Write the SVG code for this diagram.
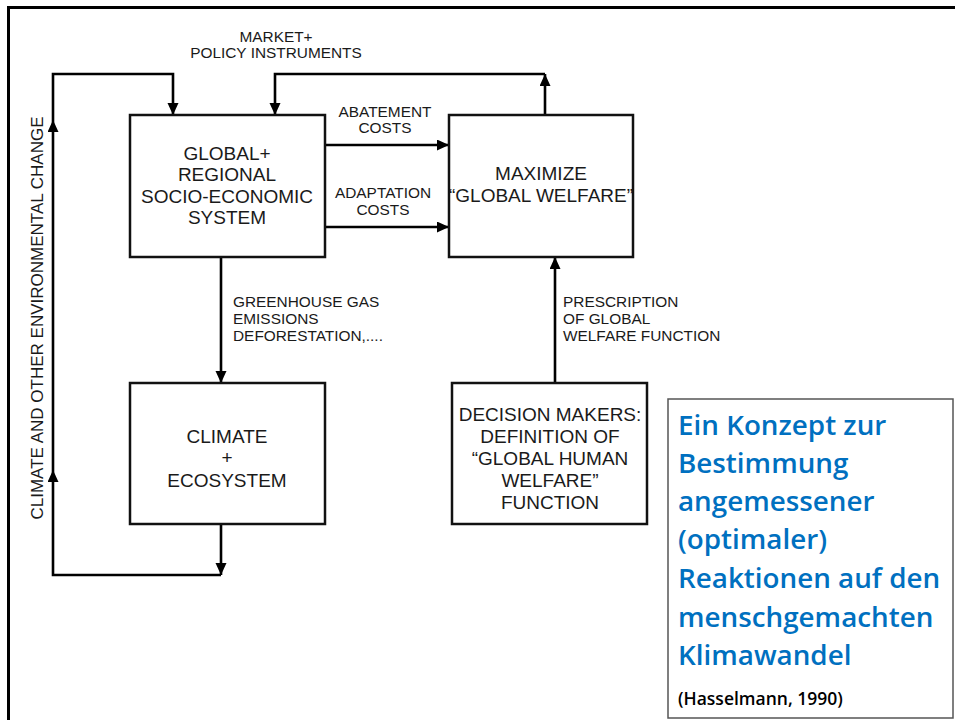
<svg xmlns="http://www.w3.org/2000/svg" width="955" height="720" viewBox="0 0 955 720">
<style>
.box{fill:#fff;stroke:#111;stroke-width:2.5}
.ln{fill:none;stroke:#000;stroke-width:2.6}
.t{font-family:"Liberation Sans",Arial,sans-serif;fill:#1a1a1a}
.big{font-size:19px;text-anchor:middle}
.sm{font-size:15.4px}
.blue{font-family:"Open Sans","Noto Sans",sans-serif;font-weight:600;font-size:27.8px;fill:#0070C0}
</style>
<defs>
<marker id="ah" markerUnits="userSpaceOnUse" markerWidth="13" markerHeight="12" refX="12" refY="5.5" orient="auto">
<path d="M0,0 L12,5.5 L0,11 z" fill="#000"/>
</marker>
</defs>
<rect width="955" height="720" fill="#fff"/>
<path d="M8.5,720 V7.5 H955" fill="none" stroke="#000" stroke-width="3"/>

<g id="connectors">
<path class="ln" d="M221,524 V575" marker-end="url(#ah)"/>
<path class="ln" d="M221,575 H53 V470" marker-end="url(#ah)"/>
<path class="ln" d="M53,470 V120" marker-end="url(#ah)"/>
<path class="ln" d="M53,120 V74 H173 V115" marker-end="url(#ah)"/>
<path class="ln" d="M545,115 V74" marker-end="url(#ah)"/>
<path class="ln" d="M545,74 H275 V115" marker-end="url(#ah)"/>
<path class="ln" d="M325,145 H449" marker-end="url(#ah)"/>
<path class="ln" d="M325,227 H449" marker-end="url(#ah)"/>
<path class="ln" d="M221,257 V383" marker-end="url(#ah)"/>
<path class="ln" d="M555,383 V257" marker-end="url(#ah)"/>
</g>

<g id="labels">
<text class="t sm" text-anchor="middle" x="276" y="42">MARKET+</text>
<text class="t sm" text-anchor="middle" x="276" y="58">POLICY INSTRUMENTS</text>
<text class="t sm" text-anchor="middle" x="385" y="117">ABATEMENT</text>
<text class="t sm" text-anchor="middle" x="385" y="133">COSTS</text>
<text class="t sm" text-anchor="middle" x="383" y="198">ADAPTATION</text>
<text class="t sm" text-anchor="middle" x="383" y="215">COSTS</text>
<text class="t sm" x="233" y="307">GREENHOUSE GAS</text>
<text class="t sm" x="233" y="324">EMISSIONS</text>
<text class="t sm" x="233" y="341">DEFORESTATION,....</text>
<text class="t sm" x="563" y="307">PRESCRIPTION</text>
<text class="t sm" x="563" y="324">OF GLOBAL</text>
<text class="t sm" x="563" y="341">WELFARE FUNCTION</text>
<text class="t" font-size="17" text-anchor="middle" transform="translate(43,318) rotate(-90)">CLIMATE AND OTHER ENVIRONMENTAL CHANGE</text>
</g>

<g id="socio">
<rect class="box" x="130" y="115" width="195" height="142"/>
<text class="t big" x="227" y="160">GLOBAL+</text>
<text class="t big" x="227" y="181">REGIONAL</text>
<text class="t big" x="227" y="203">SOCIO-ECONOMIC</text>
<text class="t big" x="227" y="224">SYSTEM</text>
</g>

<g id="maximize">
<rect class="box" x="449" y="115" width="184" height="142"/>
<text class="t big" x="541" y="180">MAXIMIZE</text>
<text class="t big" x="541" y="202">“GLOBAL WELFARE”</text>
</g>

<g id="climate">
<rect class="box" x="130" y="383" width="195" height="141"/>
<text class="t big" x="227" y="443">CLIMATE</text>
<text class="t big" x="227" y="464">+</text>
<text class="t big" x="227" y="487">ECOSYSTEM</text>
</g>

<g id="decision">
<rect class="box" x="452" y="383" width="195" height="141"/>
<text class="t big" x="550" y="421">DECISION MAKERS:</text>
<text class="t big" x="550" y="443">DEFINITION OF</text>
<text class="t big" x="550" y="465">“GLOBAL HUMAN</text>
<text class="t big" x="550" y="487">WELFARE”</text>
<text class="t big" x="550" y="509">FUNCTION</text>
</g>

<g id="note">
<rect x="668" y="399" width="285" height="319" fill="#fff" stroke="#555" stroke-width="1.5"/>
<text class="blue" x="678" y="435">Ein Konzept zur</text>
<text class="blue" x="678" y="473">Bestimmung</text>
<text class="blue" x="678" y="511">angemessener</text>
<text class="blue" x="678" y="549">(optimaler)</text>
<text class="blue" x="678" y="588">Reaktionen auf den</text>
<text class="blue" x="678" y="627">menschgemachten</text>
<text class="blue" x="678" y="665">Klimawandel</text>
<text x="678" y="705" font-family="'Open Sans','Noto Sans',sans-serif" font-weight="600" font-size="17.5" fill="#000">(Hasselmann, 1990)</text>
</g>
</svg>
